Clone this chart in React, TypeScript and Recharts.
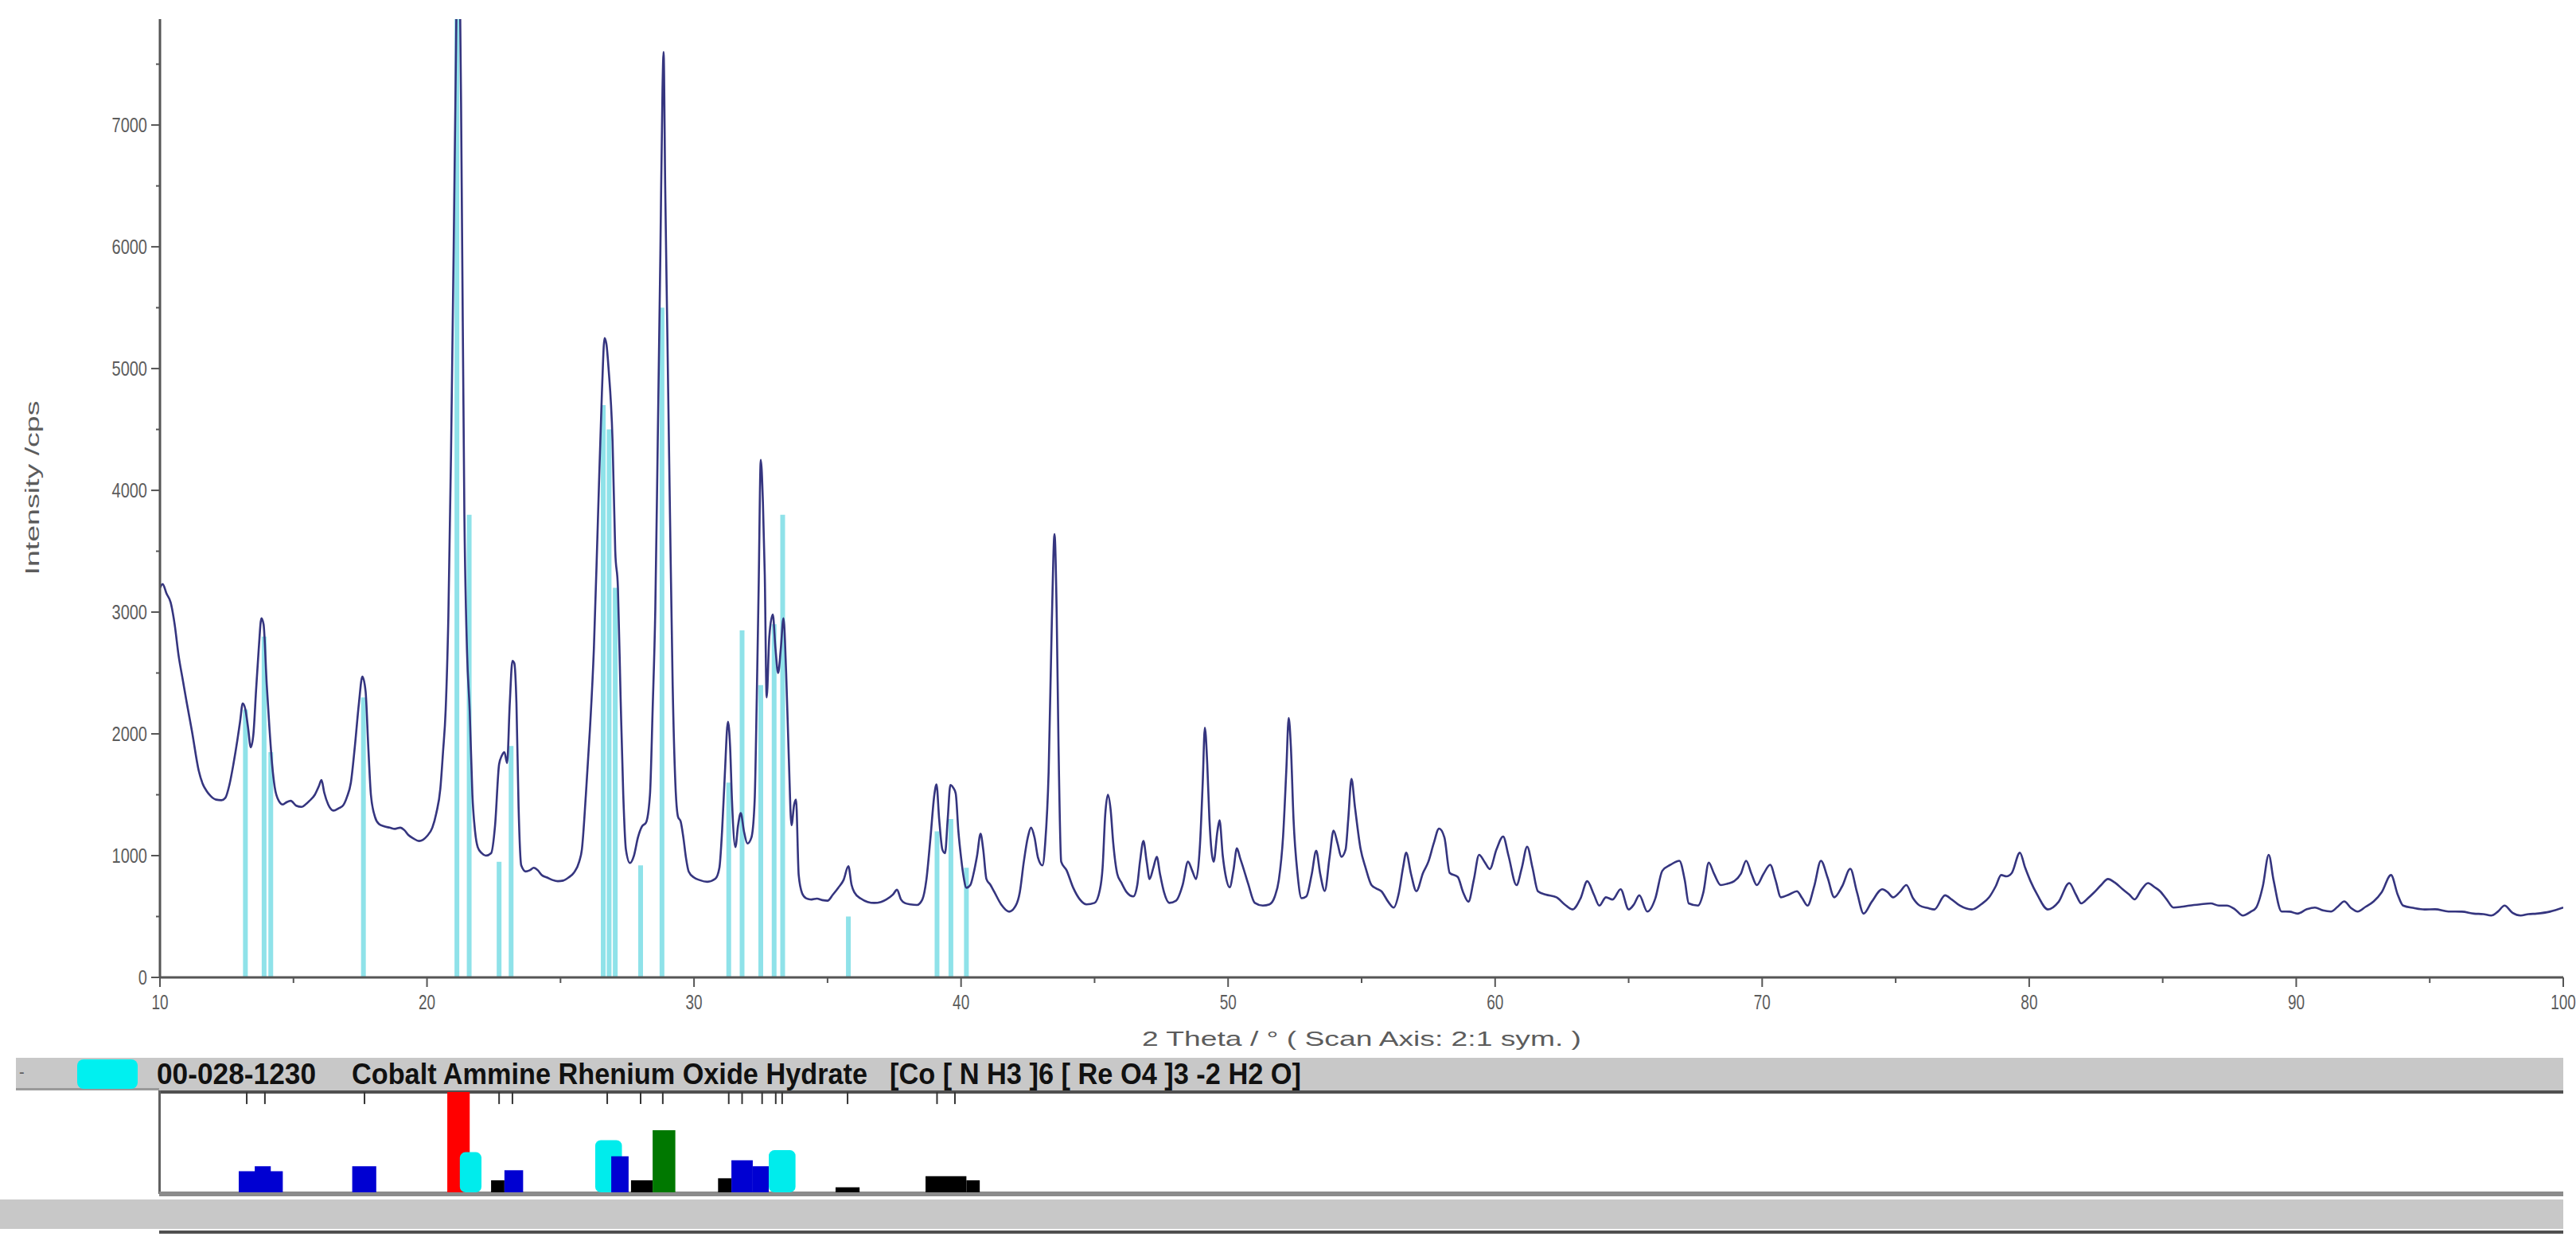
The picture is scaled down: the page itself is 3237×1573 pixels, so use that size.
import React from "react";
import { ComposedChart, Line, XAxis, YAxis, ReferenceLine, ReferenceArea } from "recharts";

const scanLow: [number, number][] = [
  [10.0, 3200], [10.1, 3230], [10.25, 3150], [10.4, 3080], [10.55, 2900], [10.7, 2640], [10.85, 2450],
  [11.0, 2260], [11.2, 2020], [11.45, 1700], [11.6, 1590], [11.75, 1530], [11.9, 1490], [12.1, 1460],
  [12.3, 1455], [12.45, 1475], [12.6, 1580], [12.75, 1750], [12.9, 1950], [13.0, 2100], [13.1, 2250],
  [13.2, 2200], [13.3, 2050], [13.4, 1890], [13.5, 2000], [13.6, 2360], [13.7, 2700], [13.8, 2950],
  [13.88, 2900], [14.0, 2400], [14.1, 2050], [14.2, 1750], [14.3, 1560], [14.45, 1450], [14.6, 1420],
  [14.75, 1440], [14.9, 1450], [15.1, 1410], [15.3, 1400], [15.45, 1420], [15.6, 1450], [15.8, 1500],
  [15.95, 1570], [16.05, 1620], [16.15, 1520], [16.3, 1420], [16.5, 1370], [16.7, 1390], [16.85, 1410],
  [17.0, 1480], [17.15, 1600], [17.3, 1900], [17.45, 2250], [17.58, 2470], [17.7, 2350], [17.8, 1900],
  [17.9, 1500], [18.05, 1320], [18.2, 1260], [18.4, 1240], [18.6, 1230], [18.8, 1220], [19.0, 1230],
  [19.15, 1210], [19.3, 1170], [19.5, 1140], [19.7, 1120], [19.85, 1130], [20.0, 1160], [20.2, 1230],
  [20.35, 1350], [20.5, 1550],
];

const scanMain: [number, number][] = [
  [20.6, 1850], [20.7, 2200], [20.8, 2960], [20.9, 4300], [21.0, 6000], [21.08, 7500], [21.15, 8600],
  [21.22, 8400], [21.3, 6500], [21.4, 3800], [21.5, 2670], [21.6, 2190], [21.7, 1500], [21.8, 1200],
  [21.9, 1070], [22.05, 1020], [22.2, 1000], [22.4, 1020], [22.55, 1250], [22.7, 1750], [22.8, 1820],
  [22.9, 1850], [23.0, 1760], [23.1, 2250], [23.2, 2600], [23.27, 2580], [23.35, 2250], [23.43, 1400],
  [23.53, 920], [23.7, 870], [23.85, 880], [24.0, 900], [24.15, 880], [24.3, 840], [24.5, 820],
  [24.7, 800], [24.9, 790], [25.1, 795], [25.3, 820], [25.5, 860], [25.7, 950], [25.8, 1050],
  [25.95, 1500], [26.1, 2030], [26.25, 2700], [26.4, 3750], [26.55, 4800], [26.65, 5250], [26.72, 5200],
  [26.8, 5000], [26.95, 4400], [27.05, 3500], [27.15, 3200], [27.25, 2300], [27.35, 1500], [27.45, 1050],
  [27.6, 940], [27.75, 1000], [27.9, 1150], [28.05, 1240], [28.2, 1270], [28.35, 1500], [28.45, 2200],
  [28.55, 3025], [28.64, 4380], [28.74, 5950], [28.82, 7300], [28.86, 7600], [28.92, 6500], [29.0, 5300],
  [29.1, 3800], [29.2, 2400], [29.3, 1600], [29.4, 1320], [29.5, 1280], [29.6, 1150], [29.7, 980],
  [29.8, 870], [30.0, 820], [30.2, 800], [30.5, 785], [30.8, 810], [30.95, 900], [31.05, 1200],
  [31.15, 1650], [31.27, 2100], [31.35, 1900], [31.42, 1460], [31.55, 1070], [31.65, 1250], [31.75, 1350],
  [31.87, 1200], [32.0, 1100], [32.15, 1150], [32.27, 1450], [32.35, 2300], [32.42, 3200], [32.5, 4250],
  [32.58, 3900], [32.65, 3300], [32.72, 2300], [32.82, 2800], [32.95, 2980], [33.05, 2700], [33.15, 2500],
  [33.25, 2700], [33.35, 2950], [33.45, 2500], [33.55, 1800], [33.65, 1250], [33.75, 1420], [33.82, 1460],
  [33.92, 840],
];

const scanMid: [number, number][] = [
  [34.05, 690], [34.2, 650], [34.4, 640], [34.6, 647], [34.8, 635], [35.0, 630], [35.2, 680], [35.4, 736],
  [35.6, 800], [35.78, 913], [35.9, 760], [36.0, 700], [36.25, 647], [36.5, 620], [36.75, 612], [37.0, 620],
  [37.2, 640], [37.45, 680], [37.6, 720], [37.75, 640], [37.9, 610], [38.1, 600], [38.35, 595], [38.55, 640],
  [38.7, 800], [38.86, 1160], [39.0, 1500], [39.08, 1585], [39.18, 1300], [39.3, 1050], [39.4, 1020],
  [39.5, 1300], [39.6, 1580], [39.7, 1560], [39.8, 1510], [39.9, 1200], [40.0, 985], [40.1, 820],
  [40.2, 736], [40.35, 760], [40.46, 845], [40.6, 1000], [40.73, 1180], [40.83, 1050], [40.95, 808],
  [41.1, 760], [41.25, 700], [41.5, 600], [41.8, 540], [42.05, 590], [42.2, 700], [42.35, 950],
  [42.5, 1150], [42.62, 1230], [42.75, 1150], [42.88, 985], [43.05, 920], [43.15, 1100], [43.28, 1690],
  [43.4, 2930], [43.5, 3640], [43.58, 3000], [43.65, 1900], [43.75, 950], [43.95, 880], [44.2, 736],
  [44.45, 640], [44.7, 600], [45.0, 612], [45.2, 720], [45.3, 900], [45.4, 1340], [45.5, 1500],
  [45.6, 1380], [45.7, 1100], [45.85, 850], [46.0, 780], [46.2, 700], [46.45, 665], [46.6, 760],
  [46.7, 950], [46.83, 1120], [46.95, 950], [47.06, 808], [47.2, 900], [47.33, 990], [47.45, 850],
  [47.6, 700], [47.8, 612], [48.05, 630], [48.3, 760], [48.5, 950], [48.65, 880], [48.8, 808],
  [48.95, 1100], [49.05, 1600], [49.13, 2050], [49.22, 1750], [49.3, 1300], [49.46, 950], [49.6, 1200],
  [49.68, 1290], [49.8, 1000], [49.9, 845], [50.06, 740], [50.2, 880], [50.33, 1060], [50.45, 980],
  [50.55, 913], [50.75, 770], [51.0, 612], [51.3, 590], [51.55, 600], [51.75, 665], [51.9, 800],
  [52.06, 1160], [52.18, 1700], [52.27, 2130], [52.35, 1900], [52.45, 1300], [52.6, 850], [52.75, 650],
  [52.93, 665], [53.13, 845], [53.3, 1040], [53.45, 850], [53.62, 710], [53.8, 985], [53.95, 1206],
  [54.1, 1100], [54.24, 990], [54.4, 1050], [54.5, 1300], [54.62, 1630], [54.75, 1400], [54.96, 1057],
];

const scanHigh: [number, number][] = [
  [55.15, 900], [55.37, 758], [55.55, 730], [55.74, 708], [56.0, 620], [56.2, 574], [56.4, 700],
  [56.55, 900], [56.67, 1024], [56.85, 850], [57.05, 708], [57.3, 858], [57.5, 950], [57.7, 1100],
  [57.9, 1222], [58.1, 1150], [58.3, 858], [58.6, 825], [58.8, 700], [59.0, 622], [59.2, 800],
  [59.4, 1007], [59.6, 950], [59.8, 890], [60.05, 1050], [60.3, 1157], [60.5, 1000], [60.8, 758],
  [61.0, 900], [61.2, 1074], [61.4, 900], [61.6, 708], [61.9, 680], [62.3, 658], [62.6, 600],
  [62.9, 558], [63.2, 650], [63.45, 790], [63.7, 680], [63.9, 590], [64.15, 658], [64.4, 640],
  [64.7, 724], [65.0, 558], [65.2, 600], [65.4, 674], [65.7, 541], [66.0, 650], [66.26, 875],
  [66.57, 925], [66.9, 958], [67.1, 800], [67.25, 608], [67.6, 590], [67.8, 700], [68.0, 942],
  [68.2, 850], [68.45, 758], [68.7, 770], [68.95, 790], [69.2, 850], [69.4, 958], [69.6, 850],
  [69.8, 758], [70.05, 850], [70.3, 925], [70.5, 800], [70.7, 658], [71.0, 680], [71.3, 708],
  [71.5, 650], [71.7, 590], [71.95, 750], [72.2, 958], [72.45, 820], [72.7, 658], [73.0, 750],
  [73.3, 892], [73.55, 700], [73.8, 524], [74.1, 620], [74.5, 724], [74.7, 700], [74.9, 658],
  [75.15, 700], [75.4, 758], [75.65, 650], [75.9, 590], [76.2, 570], [76.45, 558], [76.85, 674],
  [77.1, 640], [77.4, 590], [77.85, 558], [78.2, 600], [78.5, 658], [78.75, 750], [78.95, 841],
  [79.15, 830], [79.35, 858], [79.65, 1024], [79.85, 900], [80.05, 790], [80.3, 680], [80.7, 558],
  [81.1, 620], [81.5, 775], [81.75, 680], [81.95, 608], [82.2, 650], [82.4, 691], [82.7, 760],
  [82.95, 808], [83.2, 780], [83.5, 724], [83.75, 680], [83.95, 641], [84.2, 720], [84.45, 775],
  [84.7, 740], [84.9, 708], [85.15, 640], [85.4, 574], [85.7, 580], [86.0, 590], [86.4, 600],
  [86.8, 608], [87.1, 590], [87.4, 590], [87.7, 560], [88.0, 508], [88.3, 540], [88.5, 574],
  [88.75, 750], [88.97, 1007], [89.15, 800], [89.45, 541], [89.75, 540], [90.05, 524], [90.4, 560],
  [90.7, 574], [91.0, 550], [91.3, 541], [91.55, 580], [91.8, 624], [92.05, 570], [92.3, 541],
  [92.6, 580], [92.9, 624], [93.2, 700], [93.55, 841], [93.8, 680], [94.0, 590], [94.4, 570],
  [94.8, 558], [95.2, 560], [95.7, 541], [96.2, 540], [96.65, 524], [97.0, 520], [97.3, 508],
  [97.55, 540], [97.8, 590], [98.1, 530], [98.4, 508], [98.7, 520], [99.0, 524], [99.5, 540],
  [100.0, 574],
];

// reference pattern 00-028-1230 (stick positions / heights in cps)
const refTheta = [13.2, 13.9, 14.15, 17.62, 21.12, 21.58, 22.7, 23.15, 26.6, 26.82, 27.05, 28.0, 28.8,
  31.3, 31.8, 32.5, 33.0, 33.32, 35.78, 39.1, 39.62, 40.2];
const refCps = [2200, 2800, 1850, 2300, 7870, 3800, 950, 1900, 4700, 4500, 3200, 920, 5500,
  1600, 2850, 2400, 2900, 3800, 500, 1200, 1300, 900];

// tick marks along the top of the phase strip
const stripTicks = [13.25, 13.93, 17.66, 22.7, 23.2, 26.75, 28.0, 28.83, 31.3, 31.8, 32.55, 33.06,
  33.3, 35.75, 39.1, 39.77];

// phase strip blocks: from / to (2theta), height in %
const blockFrom = [12.95, 13.55, 17.2, 20.76, 21.23, 22.4, 22.9, 26.3, 26.9, 27.64, 28.45, 30.9,
  31.4, 32.2, 32.8, 35.3, 38.67, 40.2];
const blockTo = [14.6, 14.15, 18.1, 21.6, 22.04, 22.9, 23.6, 27.3, 27.55, 28.45, 29.3, 31.4,
  32.2, 32.8, 33.8, 36.2, 40.2, 40.7];
const blockPct = [21, 26, 26, 100, 40, 12, 22, 52, 36, 12, 62, 14, 32, 26, 42, 5, 16, 12];
const blockKind = ["b", "b", "b", "r", "c", "k", "b", "c", "b", "k", "g", "k", "b", "b", "c", "k", "k", "k"];

const xTicks = [10, 15, 20, 25, 30, 35, 40, 45, 50, 55, 60, 65, 70, 75, 80, 85, 90, 95, 100];
const yTicks = [0, 500, 1000, 1500, 2000, 2500, 3000, 3500, 4000, 4500, 5000, 5500, 6000, 6500, 7000, 7500];

const KIND_COLOR: Record<string, string> = {
  b: "#0000d2",
  k: "#000000",
  r: "#ff0000",
  c: "#00ecec",
  g: "#007800",
};

const spectrum = [...scanLow, ...scanMain, ...scanMid, ...scanHigh].map(([t, cps]) => ({ t, cps }));

const AXIS = "#555";
const LABEL = "#5c5c5c";
const FONT = "'Liberation Sans', Arial, sans-serif";
const TS = 8;
const TM = 4;

function YTick(props: any) {
  const { x, y, payload } = props;
  const ax = x + TS + TM;
  const v = payload.value as number;
  const major = v % 1000 === 0;
  return (
    <g>
      <line x1={ax - (major ? 11 : 5)} x2={ax} y1={y} y2={y} stroke={AXIS} strokeWidth={2} />
      {major && (
        <text
          transform={`translate(${ax - 16},${y}) scale(1,1.3)`}
          textAnchor="end"
          dominantBaseline="central"
          fontSize={20}
          fontFamily={FONT}
          fill={LABEL}
        >
          {v}
        </text>
      )}
    </g>
  );
}

function XTick(props: any) {
  const { x, y, payload } = props;
  const ay = y - TS - TM;
  const v = payload.value as number;
  const major = v % 10 === 0;
  return (
    <g>
      <line x1={x} x2={x} y1={ay} y2={ay + (major ? 12 : 7)} stroke={AXIS} strokeWidth={2} />
      {major && (
        <text
          transform={`translate(${x},${ay + 31}) scale(1,1.35)`}
          textAnchor="middle"
          dominantBaseline="central"
          fontSize={19}
          fontFamily={FONT}
          fill={LABEL}
        >
          {v}
        </text>
      )}
    </g>
  );
}

function XTitle(props: any) {
  const vb = props.viewBox || {};
  const cx = vb.x + vb.width / 2;
  const cy = vb.y + 77;
  return (
    <text
      transform={`translate(${cx},${cy}) scale(1,1.4)`}
      textAnchor="middle"
      dominantBaseline="central"
      fontSize={18}
      fontFamily={FONT}
      fill={LABEL}
      textLength={552}
      lengthAdjust="spacingAndGlyphs"
    >
      2 Theta / °   ( Scan Axis: 2:1 sym. )
    </text>
  );
}

function YTitle(props: any) {
  const vb = props.viewBox || {};
  const cy = vb.y + vb.height / 2 - 13;
  return (
    <text
      transform={`translate(41,${cy}) rotate(-90)`}
      textAnchor="middle"
      dominantBaseline="central"
      fontSize={23}
      fontFamily={FONT}
      fill={LABEL}
      textLength={219}
      lengthAdjust="spacingAndGlyphs"
    >
      Intensity /cps
    </text>
  );
}

function RoundBlock(props: any) {
  const { x, y, width, height, fill } = props;
  return <rect x={x} y={y} width={width} height={height} rx={7} ry={7} fill={fill} />;
}

const abs = (l: number, t: number, w: number, h: number, bg: string): React.CSSProperties => ({
  position: "absolute",
  left: l,
  top: t,
  width: w,
  height: h,
  background: bg,
});

export default function App() {
  return (
    <div style={{ position: "absolute", left: 0, top: 0, width: 3237, height: 1573, background: "#fff", overflow: "hidden" }}>
      <div style={{ position: "absolute", left: 0, top: 0 }}>
        <ComposedChart width={3237} height={1328} data={spectrum} margin={{ top: 24, right: 16, bottom: 0, left: 0 }}>
          <XAxis
            dataKey="t"
            type="number"
            domain={[10, 100]}
            ticks={xTicks}
            interval={0}
            allowDataOverflow
            tick={<XTick />}
            tickLine={false}
            tickSize={TS}
            tickMargin={TM}
            axisLine={{ stroke: AXIS, strokeWidth: 3 }}
            height={100}
            label={{ content: (p: any) => <XTitle {...p} /> }}
          />
          <YAxis
            type="number"
            domain={[0, 7870]}
            ticks={yTicks}
            interval={0}
            allowDataOverflow
            tick={<YTick />}
            tickLine={false}
            tickSize={TS}
            tickMargin={TM}
            axisLine={{ stroke: AXIS, strokeWidth: 3 }}
            width={201}
            label={{ content: (p: any) => <YTitle {...p} /> }}
          />
          {refTheta.map((t, i) => (
            <ReferenceLine
              key={`ref-${i}`}
              segment={[{ x: t, y: 0 }, { x: t, y: refCps[i] }]}
              stroke="#5fd6e0"
              strokeOpacity={0.7}
              strokeWidth={6}
            />
          ))}
          <Line
            dataKey="cps"
            type="monotone"
            dot={false}
            activeDot={false}
            stroke="#35357f"
            strokeWidth={2.6}
            isAnimationActive={false}
          />
        </ComposedChart>
      </div>

      {/* phase header band */}
      <div style={abs(20, 1329, 3201, 41, "#c8c8c8")} />
      <div style={abs(20, 1367, 180, 3, "#9a9a9a")} />
      <div style={abs(200, 1370, 3021, 4, "#505050")} />
      <div style={{ ...abs(97, 1331, 76, 37, "#00f0f0"), borderRadius: 8 }} />
      <svg style={{ position: "absolute", left: 0, top: 1329 }} width={3237} height={41}>
        <text x={24} y={25} fontSize={20} fontFamily={FONT} fill="#555">-</text>
        <text transform="translate(197,33) scale(1,1.35)" fontSize={27} fontWeight="bold" fontFamily={FONT} fill="#111" textLength={200} lengthAdjust="spacingAndGlyphs">
          00-028-1230
        </text>
        <text transform="translate(442,33) scale(1,1.35)" fontSize={27} fontWeight="bold" fontFamily={FONT} fill="#111" textLength={648} lengthAdjust="spacingAndGlyphs">
          Cobalt Ammine Rhenium Oxide Hydrate
        </text>
        <text transform="translate(1118,33) scale(1,1.35)" fontSize={27} fontWeight="bold" fontFamily={FONT} fill="#111" textLength={517} lengthAdjust="spacingAndGlyphs">
          [Co [ N H3 ]6 [ Re O4 ]3 -2 H2 O]
        </text>
      </svg>

      {/* strip frame */}
      <div style={abs(199, 1370, 3, 130, "#606060")} />
      <div style={abs(200, 1497, 3021, 6, "#8c8c8c")} />
      <div style={abs(0, 1507, 3221, 37, "#c8c8c8")} />
      <div style={abs(200, 1546, 3021, 4, "#505050")} />

      <div style={{ position: "absolute", left: 0, top: 1350 }}>
        <ComposedChart width={3237} height={150} data={[{ t: 10 }, { t: 100 }]} margin={{ top: 22, right: 16, bottom: 2, left: 201 }}>
          <XAxis dataKey="t" type="number" domain={[10, 100]} hide allowDataOverflow />
          <YAxis type="number" domain={[0, 100]} hide allowDataOverflow />
          {blockFrom.map((f, i) => (
            <ReferenceArea
              key={`blk-${i}`}
              x1={f}
              x2={blockTo[i]}
              y1={0}
              y2={blockPct[i]}
              fill={KIND_COLOR[blockKind[i]]}
              fillOpacity={1}
              stroke="none"
              ifOverflow="visible"
              shape={blockKind[i] === "c" ? <RoundBlock /> : undefined}
            />
          ))}
          {stripTicks.map((t, i) => (
            <ReferenceLine key={`tk-${i}`} segment={[{ x: t, y: 100 }, { x: t, y: 88 }]} stroke="#333" strokeWidth={2} />
          ))}
        </ComposedChart>
      </div>
    </div>
  );
}
